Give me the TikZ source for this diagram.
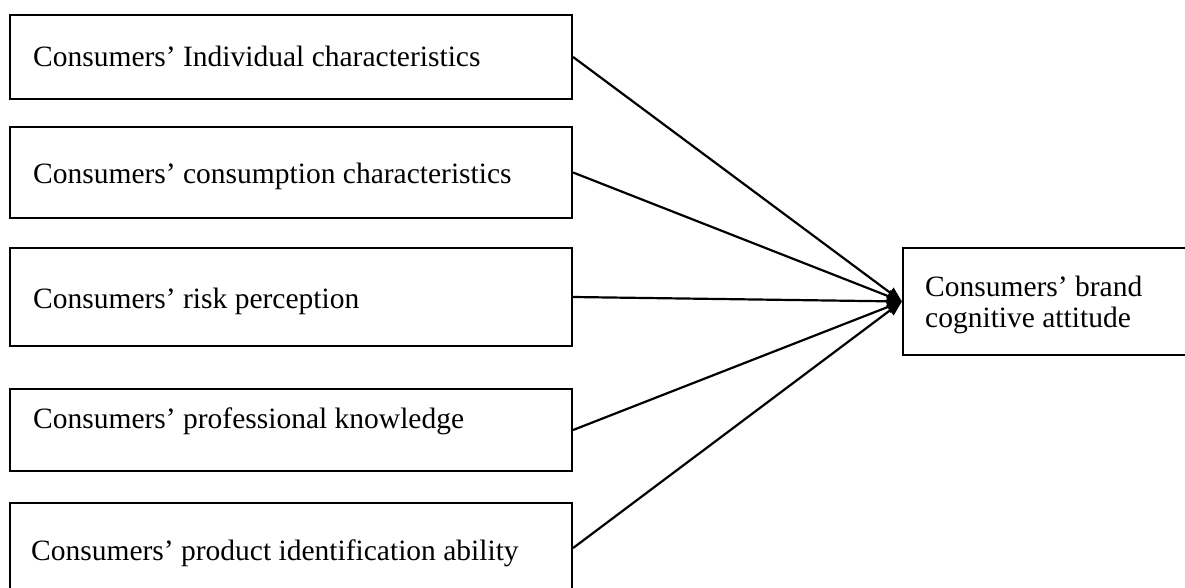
\documentclass[tikz,border=0pt]{standalone}
\usepackage{fontspec}
\setmainfont{Liberation Serif}
\usetikzlibrary{arrows.meta}
\begin{document}
\begin{tikzpicture}[x=1pt,y=-1pt,
  box/.style={draw=black,line width=2.2pt,rectangle,inner sep=0pt},
  lbl/.style={anchor=base west,inner sep=0pt,font=\fontsize{29.5}{31}\selectfont},
  conn/.style={line width=2.2pt,-{Triangle[length=15pt,width=12pt]}}]
\useasboundingbox (0,0) rectangle (1185,588);
% left boxes
\node[box,minimum width=562pt,minimum height=84pt] (b1) at (291,57) {};
\node[box,minimum width=562pt,minimum height=91pt] (b2) at (291,172.5) {};
\node[box,minimum width=562pt,minimum height=98pt] (b3) at (291,297) {};
\node[box,minimum width=562pt,minimum height=82pt] (b4) at (291,430) {};
\node[box,minimum width=562pt,minimum height=90pt] (b5) at (291,548) {};
% right box
\node[box,minimum width=292pt,minimum height=107pt] (r) at (1049,301.5) {};
% texts
\node[lbl] (t1) at (33,67) {Consumers’ Individual characteristics};
\node[lbl] (t2) at (33,183) {Consumers’ consumption characteristics};
\node[lbl] (t3) at (33,308) {Consumers’ risk perception};
\node[lbl] (t4) at (33,428) {Consumers’ professional knowledge};
\node[lbl] (t5) at (31,560) {Consumers’ product identification ability};
\node[lbl] (tr1) at (925,296) {Consumers’ brand};
\node[lbl] (tr2) at (925,327) {cognitive attitude};
% connectors
\foreach \b in {b1,b2,b3,b4,b5}
  \draw[conn] (\b.east) -- (r.west);
\end{tikzpicture}
\end{document}
